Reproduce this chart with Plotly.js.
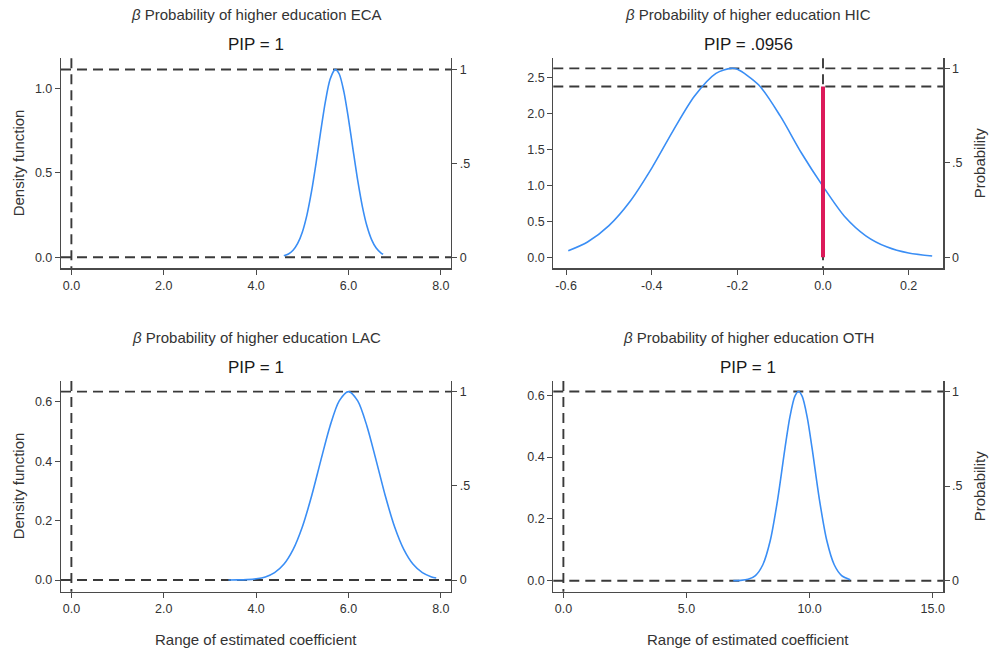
<!DOCTYPE html>
<html>
<head>
<meta charset="utf-8">
<script src="https://cdn.plot.ly/plotly-3.0.1.min.js"></script>
<style>html,body{margin:0;padding:0;background:#fff;}#chart{width:989px;height:650px;}</style>
</head>
<body>
<div id="chart"></div>
<script>
// ---- data ----
const regions = ['ECA', 'HIC', 'LAC', 'OTH'];
const pip = [1, 0.0956, 1, 1];
const pipLabels = ['1', '.0956', '1', '1'];

const ecaX = [4.60, 4.70, 4.80, 4.90, 5.00, 5.10, 5.20, 5.30, 5.40, 5.50, 5.60, 5.70, 5.72, 5.80, 5.90, 6.00, 6.10, 6.20, 6.30, 6.40, 6.50, 6.60, 6.70, 6.75];
const ecaY = [0.009, 0.020, 0.042, 0.082, 0.149, 0.250, 0.390, 0.561, 0.748, 0.922, 1.052, 1.110, 1.112, 1.085, 0.981, 0.820, 0.635, 0.455, 0.302, 0.185, 0.105, 0.055, 0.027, 0.018];

const hicX = [-0.595, -0.55, -0.50, -0.45, -0.40, -0.35, -0.30, -0.25, -0.215, -0.20, -0.15, -0.10, -0.05, 0.00, 0.05, 0.10, 0.15, 0.20, 0.255];
const hicY = [0.090, 0.212, 0.440, 0.782, 1.239, 1.760, 2.240, 2.555, 2.625, 2.612, 2.393, 1.964, 1.445, 0.985, 0.570, 0.298, 0.141, 0.058, 0.016];

const lacX = [3.4, 3.6, 3.8, 4.0, 4.2, 4.4, 4.6, 4.8, 5.0, 5.2, 5.4, 5.6, 5.8, 6.0, 6.2, 6.4, 6.6, 6.8, 7.0, 7.2, 7.4, 7.6, 7.8, 7.9];
const lacY = [0.0001, 0.0004, 0.0014, 0.004, 0.0104, 0.0248, 0.0529, 0.1024, 0.1787, 0.2821, 0.4023, 0.5184, 0.6036, 0.635, 0.6036, 0.5184, 0.4023, 0.2821, 0.1787, 0.1024, 0.0529, 0.0248, 0.0104, 0.0065];

const othX = [6.9, 7.2, 7.5, 7.8, 8.1, 8.4, 8.7, 9.0, 9.2, 9.4, 9.55, 9.7, 9.9, 10.1, 10.4, 10.7, 11.0, 11.3, 11.65];
const othY = [0.0002, 0.0009, 0.0044, 0.0167, 0.0516, 0.1291, 0.2616, 0.4288, 0.5299, 0.5960, 0.612, 0.5960, 0.5299, 0.4288, 0.2616, 0.1291, 0.0516, 0.0167, 0.0034];

const ecaXTicks = [0, 2, 4, 6, 8], ecaXText = ['0.0', '2.0', '4.0', '6.0', '8.0'];
const hicXTicks = [-0.6, -0.4, -0.2, 0, 0.2], hicXText = ['-0.6', '-0.4', '-0.2', '0.0', '0.2'];
const lacXTicks = [0, 2, 4, 6, 8], lacXText = ['0.0', '2.0', '4.0', '6.0', '8.0'];
const othXTicks = [0, 5, 10, 15], othXText = ['0.0', '5.0', '10.0', '15.0'];

const ecaYTicks = [0, 0.5, 1.0], ecaYText = ['0.0', '0.5', '1.0'];
const hicYTicks = [0, 0.5, 1.0, 1.5, 2.0, 2.5], hicYText = ['0.0', '0.5', '1.0', '1.5', '2.0', '2.5'];
const lacYTicks = [0, 0.2, 0.4, 0.6], lacYText = ['0.0', '0.2', '0.4', '0.6'];
const othYTicks = [0, 0.2, 0.4, 0.6], othYText = ['0.0', '0.2', '0.4', '0.6'];

const probTicks = [0, 0.5, 1], probText = ['0', '.5', '1'];

const titlePrefix = 'Probability of higher education';
const yLeftTitle = 'Density function';
const yRightTitle = 'Probability';
const xTitle = 'Range of estimated coefficient';

// ---- geometry / styling ----
const W = 989, H = 650;
const panels = [
  {x: ecaX, y: ecaY, xt: ecaXTicks, xtt: ecaXText, yt: ecaYTicks, ytt: ecaYText, box: [61, 451, 58.3, 268.3], xr: [-0.225, 8.22], yr: [-0.065, 1.178], leftTitle: true, rightTitle: false, bottomTitle: false},
  {x: hicX, y: hicY, xt: hicXTicks, xtt: hicXText, yt: hicYTicks, ytt: hicYText, box: [553.3, 943.3, 58.3, 268.3], xr: [-0.630, 0.281], yr: [-0.154, 2.765], leftTitle: false, rightTitle: true, bottomTitle: false},
  {x: lacX, y: lacY, xt: lacXTicks, xtt: lacXText, yt: lacYTicks, ytt: lacYText, box: [61, 451, 381, 591.7], xr: [-0.225, 8.22], yr: [-0.0394, 0.6707], leftTitle: true, rightTitle: false, bottomTitle: true},
  {x: othX, y: othY, xt: othXTicks, xtt: othXText, yt: othYTicks, ytt: othYText, box: [553.3, 943.3, 381, 591.7], xr: [-0.41, 15.43], yr: [-0.0356, 0.646], leftTitle: false, rightTitle: true, bottomTitle: true}
];

const FONT = 'Liberation Sans, Arial, Helvetica, sans-serif';
const axisCol = '#4a4a4a';
const tickFont = {family: FONT, size: 12.5, color: '#333'};
const dashCol = '#3a3a3a';
const blue = '#3a8ef5';
const red = '#dc1a5a';

const traces = [];
const layout = {
  width: W, height: H,
  margin: {l: 0, r: 0, t: 0, b: 0},
  paper_bgcolor: '#fff', plot_bgcolor: '#fff',
  showlegend: false,
  font: {family: FONT, color: '#333'},
  shapes: [], annotations: []
};

const px2x = v => v / W;
const px2y = v => 1 - v / H;

panels.forEach((p, i) => {
  const xi = i + 1, yl = 2 * i + 1, yr = 2 * i + 2;
  const xName = xi === 1 ? 'x' : 'x' + xi;
  const ylName = yl === 1 ? 'y' : 'y' + yl;
  const yrName = 'y' + yr;
  const xKey = xi === 1 ? 'xaxis' : 'xaxis' + xi;
  const ylKey = yl === 1 ? 'yaxis' : 'yaxis' + yl;
  const yrKey = 'yaxis' + yr;
  const [l, r, t, b] = p.box;
  const peak = Math.max(...p.y);

  const common = {showgrid: false, zeroline: false, showline: true, linecolor: axisCol, linewidth: 1.2,
    ticks: 'outside', ticklen: 5, tickwidth: 1, tickcolor: axisCol, tickfont: tickFont, fixedrange: true};

  layout[xKey] = Object.assign({}, common, {domain: [px2x(l), px2x(r)], range: p.xr, anchor: ylName,
    tickmode: 'array', tickvals: p.xt, ticktext: p.xtt});
  layout[ylKey] = Object.assign({}, common, {domain: [px2y(b), px2y(t)], range: p.yr, anchor: xName,
    side: 'left', tickmode: 'array', tickvals: p.yt, ticktext: p.ytt});
  layout[yrKey] = Object.assign({}, common, {overlaying: ylName, anchor: xName, side: 'right',
    range: p.yr.map(v => v / peak), tickmode: 'array', tickvals: probTicks, ticktext: probText});

  // dashed reference lines
  const dash = {color: dashCol, width: 1.9, dash: '10px,6px'};
  layout.shapes.push({type: 'line', layer: 'below', xref: xName + ' domain', yref: yrName, x0: 0, x1: 1, y0: 1, y1: 1, line: dash});
  layout.shapes.push({type: 'line', layer: 'below', xref: xName + ' domain', yref: yrName, x0: 0, x1: 1, y0: 1 - pip[i], y1: 1 - pip[i], line: dash});
  layout.shapes.push({type: 'line', layer: 'below', xref: xName, yref: ylName + ' domain', x0: 0, x1: 0, y0: 1, y1: 0, line: dash});

  // density curve
  traces.push({type: 'scatter', mode: 'lines', x: p.x, y: p.y, xaxis: xName, yaxis: ylName,
    line: {color: blue, width: 1.6, shape: 'spline', smoothing: 0.8}, hoverinfo: 'skip'});
  // probability-of-zero bar
  if (1 - pip[i] > 0) {
    traces.push({type: 'scatter', mode: 'lines', x: [0, 0], y: [0, 1 - pip[i]], xaxis: xName, yaxis: yrName,
      line: {color: red, width: 4}, hoverinfo: 'skip'});
  } else {
    traces.push({type: 'scatter', mode: 'lines', x: [], y: [], xaxis: xName, yaxis: yrName, hoverinfo: 'skip'});
  }

  const cx = (l + r) / 2;
  layout.annotations.push({xref: 'paper', yref: 'paper', x: px2x(cx), y: px2y(t - 43.5), xanchor: 'center', yanchor: 'middle',
    text: '<i>β</i> ' + titlePrefix + ' ' + regions[i], showarrow: false, font: {family: FONT, size: 15, color: '#333'}});
  layout.annotations.push({xref: 'paper', yref: 'paper', x: px2x(cx), y: px2y(t - 13.5), xanchor: 'center', yanchor: 'middle',
    text: 'PIP = ' + pipLabels[i], showarrow: false, font: {family: FONT, size: 17, color: '#1a1a1a'}});
  const cy = (t + b) / 2;
  if (p.leftTitle) layout.annotations.push({xref: 'paper', yref: 'paper', x: px2x(18), y: px2y(cy), xanchor: 'center', yanchor: 'middle',
    textangle: -90, text: yLeftTitle, showarrow: false, font: {family: FONT, size: 15, color: '#333'}});
  if (p.rightTitle) layout.annotations.push({xref: 'paper', yref: 'paper', x: px2x(979), y: px2y(cy), xanchor: 'center', yanchor: 'middle',
    textangle: -90, text: yRightTitle, showarrow: false, font: {family: FONT, size: 15, color: '#333'}});
  if (p.bottomTitle) layout.annotations.push({xref: 'paper', yref: 'paper', x: px2x(cx), y: px2y(639), xanchor: 'center', yanchor: 'middle',
    text: xTitle, showarrow: false, font: {family: FONT, size: 15, color: '#333'}});
});

Plotly.newPlot('chart', traces, layout, {staticPlot: true, displayModeBar: false});
</script>
</body>
</html>
